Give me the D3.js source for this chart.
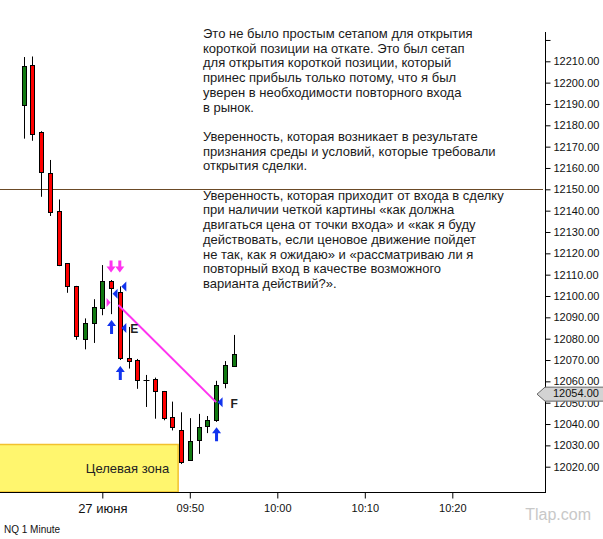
<!DOCTYPE html>
<html>
<head>
<meta charset="utf-8">
<script src="https://cdn.jsdelivr.net/npm/d3@7"></script>
<style>
    body { margin: 0; background: #fff; }
    svg { display: block; font-family: Arial, "Liberation Sans", sans-serif; }
</style>
</head>
<body>
<div id="chart"></div>
<script>
'use strict';

// NQ 1 minute bars, 27 June
const times = ["09:31", "09:32", "09:33", "09:34", "09:35", "09:36", "09:37", "09:38", "09:39", "09:40",
    "09:41", "09:42", "09:43", "09:44", "09:45", "09:46", "09:47", "09:48", "09:49", "09:50",
    "09:51", "09:52", "09:53", "09:54", "09:55"];
const opens = [12189.5, 12208.25, 12176.75, 12157.5, 12139.75, 12115.25, 12104.75, 12079.75, 12087.25, 12094.25,
    12107.25, 12101.75, 12070.75, 12070, 12060.5, 12061, 12055.25, 12043.25, 12037.25, 12023,
    12032.5, 12039, 12042, 12059, 12067];
const highs = [12212, 12212.25, 12177.25, 12163.75, 12145.25, 12115.25, 12104.75, 12089.5, 12098.5, 12114.5,
    12107.5, 12104.5, 12085.5, 12070.5, 12063, 12061.75, 12055.5, 12050.5, 12045.5, 12042.75,
    12044.75, 12043.75, 12060.25, 12069.5, 12081.75];
const lows = [12173.75, 12172.75, 12146.5, 12137.5, 12114, 12101.5, 12079.5, 12075, 12078, 12091,
    12091.5, 12070, 12066, 12056.5, 12048, 12042.5, 12041.75, 12037, 12021.25, 12022.75,
    12026, 12035.75, 12041, 12056.75, 12067];
const closes = [12208, 12175.75, 12158, 12139.25, 12114.5, 12104.5, 12081.25, 12087.25, 12095, 12107,
    12103.75, 12070.75, 12069.5, 12060.5, 12060.5, 12055.5, 12043, 12038.75, 12022.25, 12032,
    12038.75, 12042, 12058.5, 12067.75, 12073];

const priceTicks = [12020, 12030, 12040, 12050, 12060, 12070, 12080, 12090, 12100, 12110,
    12120, 12130, 12140, 12150, 12160, 12170, 12180, 12190, 12200, 12210, 12220];
const timeTicks = ["09:40", "09:50", "10:00", "10:10", "10:20"];
const timeTickLabels = ["27 июня", "09:50", "10:00", "10:10", "10:20"];

// annotations
const levelPrice = 12150;
const lastPrice = 12054;
const zoneTop = 12030.5;
const zoneEnd = "09:48:40";
const zoneLabel = "Целевая зона";
const tradeTimes = ["09:41:50", "09:53"];
const tradePrices = [12095.75, 12050.25];
const entryTime = "09:41";
const entryPrice = 12097;
const sellArrowTimes = ["09:41", "09:42"];
const sellArrowPrices = [12111, 12111];
const buyArrowTimes = ["09:41", "09:42", "09:53"];
const buyArrowPrices = [12088.75, 12067.25, 12038.5];
const fillTimes = ["09:41", "09:42", "09:42", "09:53"];
const fillPrices = [12101, 12104.5, 12085, 12050.25];
const pointLabels = ["", "", "E", "F"];

const noteLines = [
    "Это не было простым сетапом для открытия",
    "короткой позиции на откате. Это был сетап",
    "для открытия короткой позиции, который",
    "принес прибыль только потому, что я был",
    "уверен в необходимости повторного входа",
    "в рынок.",
    "",
    "Уверенность, которая возникает в результате",
    "признания среды и условий, которые требовали",
    "открытия сделки.",
    "",
    "Уверенность, которая приходит от входа в сделку",
    "при наличии четкой картины «как должна",
    "двигаться цена от точки входа» и «как я буду",
    "действовать, если ценовое движение пойдет",
    "не так, как я ожидаю» и «рассматриваю ли я",
    "повторный вход в качестве возможного",
    "варианта действий?»."
];

const width = 603, height = 539;
const axisX = 545, axisBottom = 492, axisTop = 32;

const parseTime = (s) => d3.timeParse(s.length > 5 ? "%H:%M:%S" : "%H:%M")(s);

const svg = d3.select("#chart").append("svg")
    .attr("width", width)
    .attr("height", height);

const x = d3.scaleTime()
    .domain([parseTime("09:40"), parseTime("10:20")])
    .range([102.3, 452.3]);

const y = d3.scaleLinear()
    .domain([12020, 12210])
    .range([466.7, 61.3]);

const bars = times.map((t, i) => ({
    t: parseTime(t), o: opens[i], h: highs[i], l: lows[i], c: closes[i]
}));

// target zone
const drawZone = () => {
    const zx = x(parseTime(zoneEnd));
    const zy = y(zoneTop);
    svg.append("rect")
        .attr("x", -2)
        .attr("y", Math.round(zy) + 0.5)
        .attr("width", zx + 2)
        .attr("height", axisBottom - Math.round(zy) - 0.5)
        .attr("fill", "#fff66e")
        .attr("stroke", "#f2c12e")
        .attr("stroke-width", 1.5);
    svg.append("text")
        .attr("x", zx - 9)
        .attr("y", (zy + axisBottom) / 2 + 1)
        .attr("text-anchor", "end")
        .attr("dominant-baseline", "middle")
        .attr("font-size", 13)
        .attr("fill", "#222")
        .text(zoneLabel);
}

// horizontal level
const drawLevel = () => {
    svg.append("line")
        .attr("x1", 0).attr("x2", axisX - 2)
        .attr("y1", Math.round(y(levelPrice)) + 0.5)
        .attr("y2", Math.round(y(levelPrice)) + 0.5)
        .attr("stroke", "#6b4a26")
        .attr("stroke-width", 1);
}

const drawAxes = () => {
    const yAxis = d3.axisRight(y)
        .tickValues(priceTicks)
        .tickSize(5)
        .tickPadding(3)
        .tickFormat((d) => d === 12220 ? "" : d3.format(".2f")(d));

    const gy = svg.append("g")
        .attr("transform", "translate(" + (axisX + 0.5) + ",0)")
        .call(yAxis);
    gy.select(".domain").remove();
    gy.selectAll("text").attr("font-size", 11).attr("fill", "#111")
        .attr("font-family", "Arial, 'Liberation Sans', sans-serif");
    gy.selectAll("line").attr("stroke", "#000");

    const xAxis = d3.axisBottom(x)
        .tickValues(timeTicks.map(parseTime))
        .tickSize(6)
        .tickPadding(6)
        .tickFormat((d, i) => timeTickLabels[i]);

    const gx = svg.append("g")
        .attr("transform", "translate(0," + (axisBottom + 0.5) + ")")
        .call(xAxis);
    gx.select(".domain").remove();
    gx.selectAll("line").attr("stroke", "#000");
    gx.selectAll("text").attr("font-size", 11).attr("fill", "#111")
        .attr("font-family", "Arial, 'Liberation Sans', sans-serif");
    gx.select(".tick text").attr("font-size", 13).attr("dy", "0.62em");

    svg.append("line")
        .attr("x1", axisX + 0.5).attr("x2", axisX + 0.5)
        .attr("y1", axisTop).attr("y2", axisBottom + 0.5)
        .attr("stroke", "#000");
    svg.append("line")
        .attr("x1", 0).attr("x2", axisX + 1)
        .attr("y1", axisBottom + 0.5).attr("y2", axisBottom + 0.5)
        .attr("stroke", "#000");
}

const drawCandles = () => {
    const g = svg.append("g");
    const cx = (d) => Math.round(x(d.t)) + 0.5;

    g.selectAll(".wick")
        .data(bars)
        .enter()
        .append("line")
        .attr("class", "wick")
        .attr("x1", cx).attr("x2", cx)
        .attr("y1", (d) => y(d.h))
        .attr("y2", (d) => y(d.l))
        .attr("stroke", "#000");

    g.selectAll(".body")
        .data(bars)
        .enter()
        .append("rect")
        .attr("class", "body")
        .attr("x", (d) => cx(d) - 2)
        .attr("y", (d) => Math.round(y(Math.max(d.o, d.c))) + 0.5)
        .attr("width", 4)
        .attr("height", (d) => Math.max(0, Math.round(y(Math.min(d.o, d.c))) - Math.round(y(Math.max(d.o, d.c)))))
        .attr("fill", (d) => d.c > d.o ? "#117a11" : (d.c < d.o ? "#ff0000" : "none"))
        .attr("stroke", "#000");

    // doji cross
    g.selectAll(".doji")
        .data(bars.filter((d) => d.o === d.c))
        .enter()
        .append("line")
        .attr("x1", (d) => cx(d) - 3).attr("x2", (d) => cx(d) + 3)
        .attr("y1", (d) => Math.round(y(d.o)) + 0.5)
        .attr("y2", (d) => Math.round(y(d.o)) + 0.5)
        .attr("stroke", "#000");
}

const drawTrade = () => {
    svg.append("line")
        .attr("x1", x(parseTime(tradeTimes[0])))
        .attr("y1", y(tradePrices[0]))
        .attr("x2", x(parseTime(tradeTimes[1])))
        .attr("y2", y(tradePrices[1]))
        .attr("stroke", "#ff33f0")
        .attr("stroke-width", 2);

    // entry marker pointing right
    const ex = x(parseTime(entryTime)) - 0.5, ey = y(entryPrice);
    svg.append("path")
        .attr("d", "M" + ex + "," + ey + "L" + (ex - 4) + "," + (ey - 4.5) + "L" + (ex - 4) + "," + (ey + 4.5) + "Z")
        .attr("fill", "#ff33f0");

    // sell arrows (pointing down)
    sellArrowTimes.forEach((t, i) => {
        const ax = x(parseTime(t)), ay = y(sellArrowPrices[i]);
        svg.append("path")
            .attr("d", "M" + ax + "," + ay +
                "l-4.5,-6 l3,0 l0,-6 l3,0 l0,6 l3,0 Z")
            .attr("fill", "#ff33f0");
    });

    // buy arrows (pointing up)
    buyArrowTimes.forEach((t, i) => {
        const ax = x(parseTime(t)) + 0.5, ay = y(buyArrowPrices[i]);
        svg.append("path")
            .attr("d", "M" + ax + "," + ay +
                "l-4.5,6 l3,0 l0,8 l3,0 l0,-8 l3,0 Z")
            .attr("fill", "#1133ee");
    });

    // fill markers (pointing left)
    fillTimes.forEach((t, i) => {
        const fx = x(parseTime(t)) + 1.5, fy = y(fillPrices[i]);
        svg.append("path")
            .attr("d", "M" + fx + "," + fy + "L" + (fx + 5) + "," + (fy - 5) + "L" + (fx + 5) + "," + (fy + 5) + "Z")
            .attr("fill", "#1133ee");
        if (pointLabels[i]) {
            svg.append("text")
                .attr("x", fx + (pointLabels[i] === "F" ? 13 : 9))
                .attr("y", fy + (pointLabels[i] === "F" ? 2.5 : 2))
                .attr("dominant-baseline", "middle")
                .attr("font-size", 12)
                .attr("font-weight", "bold")
                .attr("fill", "#222")
                .text(pointLabels[i]);
        }
    });
}

const drawPriceTag = () => {
    const py = y(lastPrice);
    svg.append("path")
        .attr("d", "M" + (axisX - 8) + "," + py +
            "L" + axisX + "," + (py - 7) + "L" + (width + 2) + "," + (py - 7) +
            "L" + (width + 2) + "," + (py + 7) + "L" + axisX + "," + (py + 7) + "Z")
        .attr("fill", "#d3d3d3")
        .attr("stroke", "#666");
    svg.append("text")
        .attr("x", axisX + 8)
        .attr("y", py)
        .attr("dominant-baseline", "middle")
        .attr("font-size", 11)
        .attr("fill", "#111")
        .text(d3.format(".2f")(lastPrice));
}

const drawNotes = () => {
    const t = svg.append("text")
        .attr("font-size", 13)
        .attr("fill", "#1a1a1a");
    noteLines.forEach((line, i) => {
        t.append("tspan")
            .attr("x", 203)
            .attr("y", 38 + i * 14.7)
            .text(line);
    });

    svg.append("text")
        .attr("x", 4).attr("y", 533)
        .attr("font-size", 10)
        .attr("fill", "#111")
        .text("NQ 1 Minute");

    svg.append("text")
        .attr("x", 591).attr("y", 520)
        .attr("text-anchor", "end")
        .attr("font-size", 16)
        .attr("fill", "#c8c8c8")
        .text("Tlap.com");
}

drawZone();
drawLevel();
drawNotes();
drawCandles();
drawTrade();
drawAxes();
drawPriceTag();
</script>
</body>
</html>
